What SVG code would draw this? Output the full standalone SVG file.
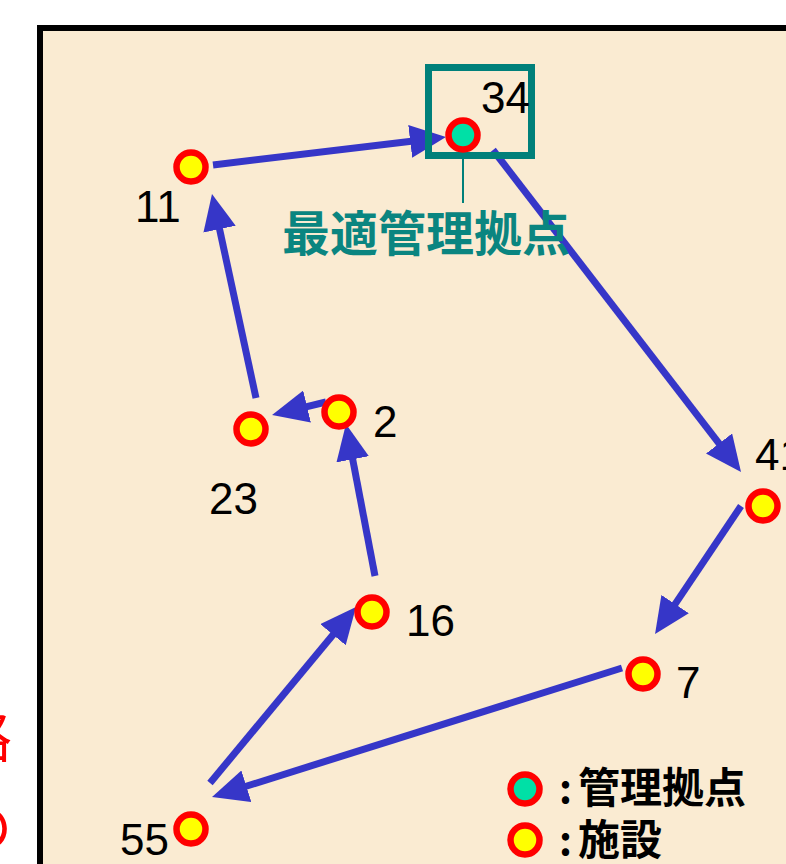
<svg xmlns="http://www.w3.org/2000/svg" width="786" height="864" viewBox="0 0 786 864">
<defs>
<style>
.node{fill:#FFFF00;stroke:#FF0000;stroke-width:6.5}
.base{fill:#00E0A6;stroke:#FF0000;stroke-width:6.5}
.lbl{font-family:"Liberation Sans",Arial,sans-serif;font-size:44px;fill:#000}
.edge{stroke:#3636C8;stroke-width:7;fill:none;marker-end:url(#ah)}
.jp{font-family:"Noto Sans CJK JP","Noto Sans",sans-serif}
</style>
<marker id="ah" markerUnits="userSpaceOnUse" viewBox="0 0 36 33" refX="16" refY="16.5" markerWidth="36" markerHeight="33" orient="auto">
<path d="M0,0 L36,16.5 L0,33 z" fill="#3636C8"/>
</marker>
</defs>
<rect x="0" y="0" width="786" height="864" fill="#FFFFFF"/>
<g id="side-text" class="jp" fill="#FF0000" font-size="56">
<text x="-44" y="757">路</text>
<text x="-44" y="848">の</text>
</g>
<rect id="panel" x="40" y="28" width="820" height="900" fill="#FAEBD2" stroke="#000" stroke-width="6"/>
<g id="connectors">
<line class="edge" x1="213" y1="165" x2="426.1" y2="139.4"/>
<line class="edge" x1="493" y1="150" x2="728.8" y2="456.2"/>
<line class="edge" x1="741" y1="506" x2="666.2" y2="617.4"/>
<line class="edge" x1="622" y1="668" x2="231.1" y2="791"/>
<line class="edge" x1="210" y1="783" x2="343.2" y2="622.4"/>
<line class="edge" x1="375" y1="576" x2="349.7" y2="443.6"/>
<line class="edge" x1="326" y1="402" x2="291.5" y2="410.3"/>
<line class="edge" x1="256" y1="398" x2="216.2" y2="213.5"/>
</g>
<g id="n34">
<rect x="428.5" y="67.5" width="103" height="88" fill="none" stroke="#00807A" stroke-width="7"/>
<line x1="463" y1="152" x2="463" y2="203" stroke="#00807A" stroke-width="2"/>
<circle class="base" cx="463" cy="135" r="14.5"/>
<text class="lbl" x="481" y="113">34</text>
<text class="jp" x="282" y="251" font-size="48" font-weight="bold" fill="#0A8580">最適管理拠点</text>
</g>
<g id="n11"><circle class="node" cx="191" cy="167" r="14.5"/><text class="lbl" x="135" y="222">11</text></g>
<g id="n2"><circle class="node" cx="339" cy="412" r="14.5"/><text class="lbl" x="373" y="437">2</text></g>
<g id="n23"><circle class="node" cx="251" cy="429" r="14.5"/><text class="lbl" x="209" y="514">23</text></g>
<g id="n41"><circle class="node" cx="763" cy="506" r="14.5"/><text class="lbl" x="755" y="470">41</text></g>
<g id="n16"><circle class="node" cx="372" cy="612" r="14.5"/><text class="lbl" x="406" y="636">16</text></g>
<g id="n7"><circle class="node" cx="643" cy="674" r="14.5"/><text class="lbl" x="676" y="698">7</text></g>
<g id="n55"><circle class="node" cx="191" cy="829" r="14.5"/><text class="lbl" x="120" y="855">55</text></g>
<g id="legend" class="jp" font-weight="bold" fill="#000">
<circle class="base" cx="525" cy="789" r="14.5"/>
<text y="803" font-size="42"><tspan x="559" font-size="40">:</tspan><tspan x="578">管理拠点</tspan></text>
<circle class="node" cx="525" cy="840" r="14.5"/>
<text y="855" font-size="42"><tspan x="559" font-size="40">:</tspan><tspan x="578">施設</tspan></text>
</g>
</svg>
